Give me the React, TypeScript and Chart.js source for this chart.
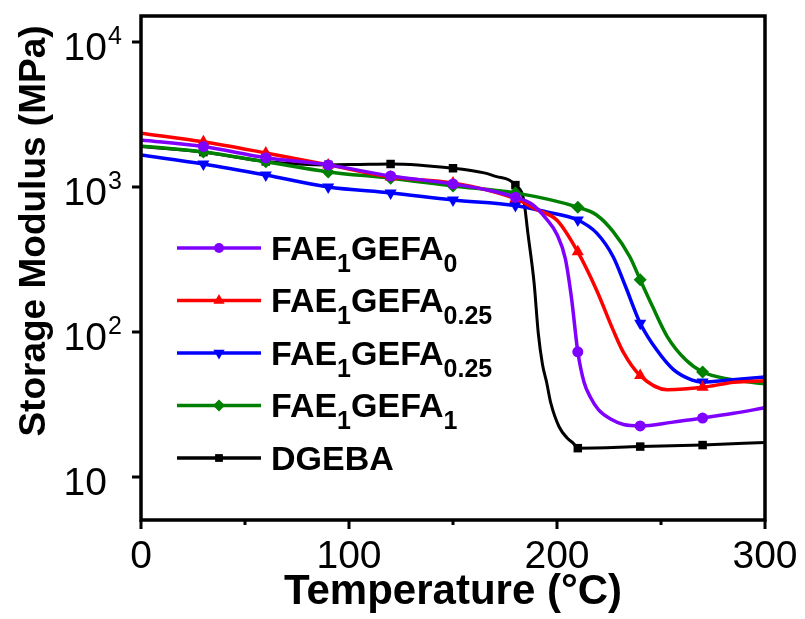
import React, { useEffect, useRef } from "react";
import { Chart, registerables } from "chart.js";

Chart.register(...registerables);

// ---- data (temperature °C, storage modulus MPa) ----
const purpleT = [0, 30, 60, 90, 120, 150, 170, 180, 188, 195, 200, 204, 207, 210, 213, 216, 220, 226, 232, 240, 255, 270, 285, 300];
const purpleV = [2110, 1900, 1590, 1420, 1190, 1050, 930, 850, 760, 600, 470, 320, 170, 73, 45, 35.6, 29, 25, 23, 22.5, 23.8, 25.5, 27.5, 30];

const redT = [0, 30, 60, 90, 120, 150, 180, 190, 200, 210, 219, 227, 232, 240, 253, 270, 285, 300];
const redV = [2350, 2050, 1715, 1420, 1170, 1065, 830, 700, 590, 357, 195, 103, 72, 50, 40, 41.5, 45, 46];

const blueT = [0, 30, 60, 90, 120, 150, 180, 195, 210, 219, 227, 233, 240, 248, 256, 265, 270, 283, 300];
const blueV = [1660, 1440, 1210, 1000, 910, 813, 745, 673, 592, 482, 330, 205, 115, 75, 55, 46.6, 45.2, 46.6, 49];

const greenT = [0, 30, 60, 90, 120, 150, 180, 210, 219, 227, 235, 240, 246, 253, 262, 270, 283, 300];
const greenV = [1920, 1740, 1490, 1270, 1150, 1017, 910, 725, 641, 492, 330, 229, 149, 93, 64, 53, 47.2, 44];

const blackT = [0, 30, 60, 90, 105, 120, 150, 165, 171, 177, 180, 184, 186, 189, 191, 193, 195, 197, 201, 205, 208, 210, 240, 270, 300];
const blackV = [1900, 1740, 1500, 1420, 1430, 1440, 1346, 1250, 1178, 1117, 1030, 813, 480, 217, 98, 60, 45, 32.4, 22.2, 18.5, 17, 15.8, 16.2, 16.6, 17.3];

const seriesLabels = ["FAE_{1}GEFA_{0}", "FAE_{1}GEFA_{0.25}", "FAE_{1}GEFA_{0.25}", "FAE_{1}GEFA_{1}", "DGEBA"];
const seriesColors = ["#8000FF", "#FF0000", "#0000FF", "#008000", "#000000"];
const seriesMarkers = ["circle", "triangle", "triangleDown", "rectRot", "rect"];

const xTicks = [0, 100, 200, 300];
const xMinorTicks = [50, 150, 250];
const yTicks = [10, 100, 1000, 10000];

const xTitle = "Temperature (°C)";
const yTitle = "Storage Modulus (MPa)";

const FONT = '"Liberation Sans", Arial, sans-serif';

function toPoints(t: number[], v: number[]) {
  return t.map((x, i) => ({ x, y: v[i] }));
}

function markerRadius(style: string) {
  if (style === "circle") return 5.5;
  if (style === "triangle" || style === "triangleDown") return 7;
  if (style === "rectRot") return 6.5;
  return 6;
}

function drawMarker(ctx: CanvasRenderingContext2D, style: string, x: number, y: number, r: number, color: string) {
  ctx.save();
  ctx.fillStyle = color;
  ctx.beginPath();
  if (style === "circle") {
    ctx.arc(x, y, r, 0, Math.PI * 2);
  } else if (style === "triangle" || style === "triangleDown") {
    const s = style === "triangle" ? 1 : -1;
    for (let k = 0; k < 3; k++) {
      const a = (k * 2 * Math.PI) / 3;
      const px = x + Math.sin(a) * r;
      const py = y - s * Math.cos(a) * r;
      if (k === 0) ctx.moveTo(px, py);
      else ctx.lineTo(px, py);
    }
    ctx.closePath();
  } else if (style === "rectRot") {
    ctx.moveTo(x, y - r);
    ctx.lineTo(x + r, y);
    ctx.lineTo(x, y + r);
    ctx.lineTo(x - r, y);
    ctx.closePath();
  } else {
    const h = r * Math.SQRT1_2;
    ctx.rect(x - h, y - h, 2 * h, 2 * h);
  }
  ctx.fill();
  ctx.restore();
}

function parseLabel(label: string) {
  const parts: { text: string; sub: boolean }[] = [];
  const re = /_\{([^}]*)\}|([^_]+)/g;
  let m: RegExpExecArray | null;
  while ((m = re.exec(label)) !== null) {
    if (m[1] !== undefined) parts.push({ text: m[1], sub: true });
    else parts.push({ text: m[2], sub: false });
  }
  return parts;
}

const decorPlugin = {
  id: "decor",
  afterDatasetsDraw(chart: any) {
    const { ctx, chartArea: a, scales } = chart;
    const xs = scales.x;
    const ys = scales.y;
    ctx.save();
    ctx.strokeStyle = "#000";
    ctx.lineWidth = 3.5;
    ctx.strokeRect(a.left, a.top, a.right - a.left, a.bottom - a.top);

    ctx.lineWidth = 3;
    ctx.beginPath();
    xTicks.forEach((v) => {
      const px = xs.getPixelForValue(v);
      ctx.moveTo(px, a.bottom);
      ctx.lineTo(px, a.bottom + 9);
    });
    xMinorTicks.forEach((v) => {
      const px = xs.getPixelForValue(v);
      ctx.moveTo(px, a.bottom);
      ctx.lineTo(px, a.bottom + 5);
    });
    yTicks.forEach((v) => {
      const py = ys.getPixelForValue(v);
      ctx.moveTo(a.left, py);
      ctx.lineTo(a.left - 9, py);
    });
    ctx.stroke();

    ctx.fillStyle = "#000";
    ctx.textBaseline = "alphabetic";
    ctx.font = `39px ${FONT}`;
    ctx.textAlign = "center";
    xTicks.forEach((v) => {
      ctx.fillText(String(v), xs.getPixelForValue(v), a.bottom + 48);
    });
    yTicks.forEach((v) => {
      const e = Math.round(Math.log10(v));
      const py = ys.getPixelForValue(v);
      ctx.font = `39px ${FONT}`;
      ctx.textAlign = "right";
      ctx.fillText("10", 107, py + 18);
      if (e !== 1) {
        ctx.font = `25px ${FONT}`;
        ctx.textAlign = "left";
        ctx.fillText(String(e), 108, py + 2);
      }
    });

    // axis titles
    ctx.font = `bold 42px ${FONT}`;
    ctx.textAlign = "center";
    ctx.fillText(xTitle, 453, 604);
    ctx.save();
    ctx.translate(45, 231);
    ctx.rotate(-Math.PI / 2);
    ctx.font = `bold 37px ${FONT}`;
    ctx.fillText(yTitle, 0, 0);
    ctx.restore();

    // legend
    seriesLabels.forEach((label, i) => {
      const cy = 248 + i * 52.5;
      const color = seriesColors[i];
      ctx.strokeStyle = color;
      ctx.lineWidth = 3.5;
      ctx.beginPath();
      ctx.moveTo(177, cy);
      ctx.lineTo(261, cy);
      ctx.stroke();
      drawMarker(ctx, seriesMarkers[i], 219, cy, markerRadius(seriesMarkers[i]) - 0.5, color);
      let tx = 271;
      const base = cy + 11.5;
      ctx.fillStyle = "#000";
      ctx.textAlign = "left";
      parseLabel(label).forEach((p) => {
        if (p.sub) {
          ctx.font = `bold 25px ${FONT}`;
          ctx.fillText(p.text, tx, base + 12);
        } else {
          ctx.font = `bold 34px ${FONT}`;
          ctx.fillText(p.text, tx, base);
        }
        tx += ctx.measureText(p.text).width;
      });
    });
    ctx.restore();
  },
};

export default function App() {
  const canvasRef = useRef<HTMLCanvasElement | null>(null);

  useEffect(() => {
    const canvas = canvasRef.current;
    if (!canvas) return;
    const series = [
      toPoints(purpleT, purpleV),
      toPoints(redT, redV),
      toPoints(blueT, blueV),
      toPoints(greenT, greenV),
      toPoints(blackT, blackV),
    ];
    const datasets = series.map((pts, i) => {
      const style = seriesMarkers[i];
      return {
        label: seriesLabels[i],
        data: pts,
        borderColor: seriesColors[i],
        backgroundColor: seriesColors[i],
        borderWidth: i === 4 ? 3 : 3.5,
        cubicInterpolationMode: "monotone" as const,
        pointStyle: style === "triangleDown" ? "triangle" : style,
        rotation: style === "triangleDown" ? 180 : 0,
        pointBorderWidth: 0,
        pointRadius: (c: any) => {
          const t = c.raw ? c.raw.x : 0;
          return t > 0 && t < 300 && t % 30 === 0 ? markerRadius(style) : 0;
        },
        pointHoverRadius: 0,
      };
    });
    const chart = new Chart(canvas, {
      type: "line",
      data: { datasets },
      options: {
        animation: false,
        responsive: false,
        devicePixelRatio: 1,
        layout: { padding: { left: 141, right: 40, top: 16, bottom: 99 } },
        plugins: { legend: { display: false }, tooltip: { enabled: false } },
        scales: {
          x: { type: "linear", min: 0, max: 300, display: false },
          y: { type: "logarithmic", min: 5.05, max: 15100, display: false },
        },
      },
      plugins: [decorPlugin],
    } as any);
    return () => chart.destroy();
  }, []);

  return (
    <div style={{ position: "absolute", left: 0, top: 0, width: 805, height: 619, background: "#fff" }}>
      <canvas ref={canvasRef} width={805} height={619} style={{ display: "block", width: 805, height: 619 }} />
    </div>
  );
}
